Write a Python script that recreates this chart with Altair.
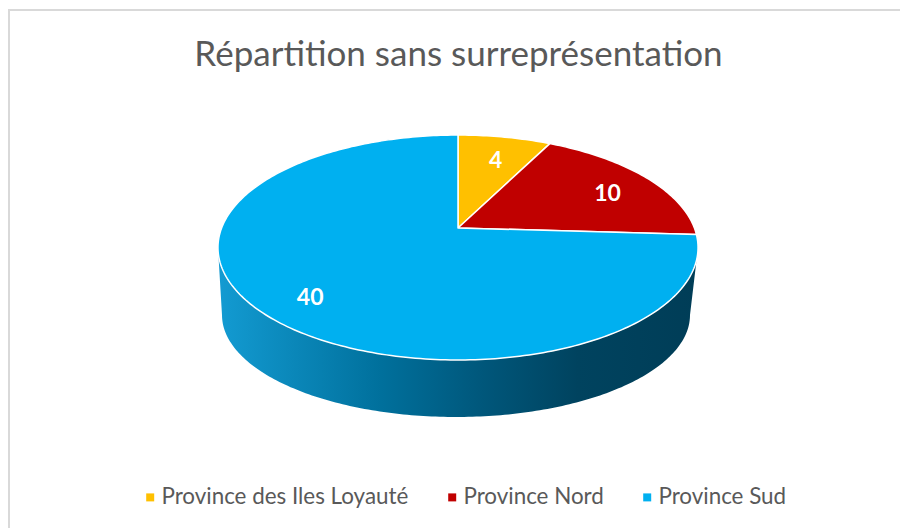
import altair as alt
import pandas as pd
import numpy as np

# ---- data ----
provinces = ["Province des Iles Loyauté", "Province Nord", "Province Sud"]
seats = [4, 10, 40]
colors = ["#FFC000", "#C00000", "#00B0F0"]
title_text = "Répartition sans surreprésentation"

# ---- layout (page pixels) ----
PAD_L, PAD_T = 8, 9
W, H = 900 - PAD_L, 528 - PAD_T
CX, CY = 458 - PAD_L, 228 - PAD_T          # pie centre on top face
A, B, K = 236.4, 109.1, 0.1734             # top face perspective
BX, BY, BRX, BRY = 456 - PAD_L, 315 - PAD_T, 234, 102  # bottom rim ellipse
LABEL_F = 0.78


def top_point(theta_deg, f=1.0):
    t = np.radians(theta_deg)
    u, v = f * np.sin(t), f * np.cos(t)
    d = 1 + K * v
    return CX + A * u / d, CY - B * v / d


# top wedges (angles clockwise from 12 o'clock, from the values)
total = float(sum(seats))
rows, lbl = [], []
start = 0.0
for name, val in zip(provinces, seats):
    span = 360.0 * val / total
    end = start + span
    i = 0
    x0, y0 = top_point(0, 0)
    rows.append({"province": name, "x": x0, "y": y0, "i": i})
    n = max(4, int(span))
    for t in np.linspace(start, end, n + 1):
        i += 1
        x, y = top_point(t)
        rows.append({"province": name, "x": x, "y": y, "i": i})
    lx, ly = top_point(start + span / 2, LABEL_F)
    lbl.append({"province": name, "x": lx, "y": ly, "txt": str(val)})
    start = end
top_df = pd.DataFrame(rows)
lbl_df = pd.DataFrame(lbl)

# visible side of the cylinder
th_r = np.degrees(np.arccos(-K))
th_l = 360 - th_r
side = []
j = 0
for t in np.linspace(th_r, th_l, 161):
    x, y = top_point(t)
    side.append({"x": x, "y": y, "i": j}); j += 1
for p in np.linspace(180, 360, 181):
    r = np.radians(p)
    side.append({"x": BX + BRX * np.cos(r), "y": BY - BRY * np.sin(r), "i": j}); j += 1
side_df = pd.DataFrame(side)

xs = alt.Scale(domain=[0, W], nice=False, zero=False)
ys = alt.Scale(domain=[0, H], nice=False, zero=False, reverse=True)
enc_x = alt.X("x:Q", scale=xs, axis=None)
enc_y = alt.Y("y:Q", scale=ys, axis=None)

side_grad = alt.Gradient(
    gradient="linear", x1=0, x2=1, y1=0, y2=0,
    stops=[
        alt.GradientStop(color="#139bd2", offset=0),
        alt.GradientStop(color="#00709c", offset=0.34),
        alt.GradientStop(color="#00577b", offset=0.55),
        alt.GradientStop(color="#00435f", offset=0.75),
        alt.GradientStop(color="#003d57", offset=1),
    ],
)

side_layer = alt.Chart(side_df).mark_line(
    filled=True, interpolate="linear-closed", color=side_grad, strokeWidth=0
).encode(x=enc_x, y=enc_y, order="i:Q")

top_layer = alt.Chart(top_df).mark_line(
    filled=True, interpolate="linear-closed", stroke="white", strokeWidth=1.5,
    strokeJoin="round"
).encode(
    x=enc_x, y=enc_y, order="i:Q",
    color=alt.Color(
        "province:N",
        scale=alt.Scale(domain=provinces, range=colors),
        sort=provinces,
        legend=alt.Legend(
            title=None, orient="none", legendX=131, legendY=477,
            direction="horizontal", symbolType="square", symbolSize=64,
            symbolStrokeWidth=0, labelFont="Lato", labelFontSize=22.4,
            labelColor="#595959", labelOffset=0, columnPadding=32,
            labelLimit=400,
        ),
    ),
)

label_layer = alt.Chart(lbl_df).mark_text(
    font="Lato", fontSize=23, fontWeight="bold", color="white",
    align="center", baseline="middle", dy=6
).encode(x=enc_x, y=enc_y, text="txt:N")

one = pd.DataFrame({"a": [0]})
border_l = alt.Chart(one).mark_rule(color="#d9d9d9", strokeWidth=2).encode(
    x=alt.value(1), y=alt.value(0), y2=alt.value(H))
border_t = alt.Chart(one).mark_rule(color="#d9d9d9", strokeWidth=2).encode(
    x=alt.value(0), x2=alt.value(W), y=alt.value(1))

title_layer = alt.Chart(pd.DataFrame({"t": [title_text]})).mark_text(
    font="Lato", fontSize=35, color="#595959", align="center",
    baseline="alphabetic"
).encode(x=alt.value(458.5 - PAD_L), y=alt.value(66 - PAD_T), text="t:N")

chart = alt.layer(
    border_l, border_t, side_layer, top_layer, label_layer, title_layer
).properties(
    width=W, height=H,
    padding={"left": PAD_L, "top": PAD_T, "right": 0, "bottom": 0},
    autosize=alt.AutoSizeParams(type="none"),
).configure_view(stroke=None)

chart.save("out.html", embed_options={"renderer": "svg", "actions": False})
